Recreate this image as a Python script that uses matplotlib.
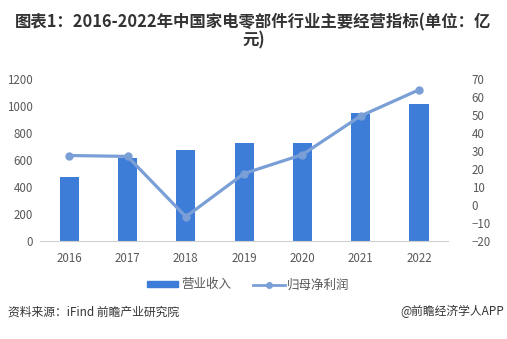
import numpy as np
import matplotlib
matplotlib.use('Agg')
import matplotlib.pyplot as plt

plt.rcParams['font.family'] = ['Noto Sans CJK SC', 'DejaVu Sans']

years = ['2016', '2017', '2018', '2019', '2020', '2021', '2022']
revenue = [475, 615, 675, 725, 725, 945, 1015]      # 营业收入
net_profit = [27.5, 27, -6.5, 17.5, 28, 49.5, 64]    # 归母净利润

bar_color = '#3d7dd8'
line_color = '#7a9fd6'
tick_color = '#595959'

fig = plt.figure(figsize=(5.07, 3.39), dpi=100)
ax = fig.add_axes([0.079, 0.289, 0.805, 0.478])
ax2 = ax.twinx()

x = np.arange(len(years))
bars = ax.bar(x, revenue, width=0.33, color=bar_color, zorder=2)
line, = ax2.plot(x, net_profit, color=line_color, lw=2.3, marker='o', ms=5, zorder=3)

ax.set_xlim(-0.5, len(years) - 0.5)
ax.set_ylim(0, 1200)
ax.set_yticks(range(0, 1201, 200))
ax2.set_ylim(-20, 70)
ax2.set_yticks(range(-20, 71, 10))
ax.set_xticks(x)
ax.set_xticklabels(years)

for a in (ax, ax2):
    for s in a.spines.values():
        s.set_visible(False)
    a.tick_params(length=0, labelsize=8.3, labelcolor=tick_color)
ax.spines['bottom'].set_visible(True)
ax.spines['bottom'].set_color('#d0d0d0')
ax.tick_params(axis='x', pad=8)
ax.tick_params(axis='y', pad=5)
ax2.tick_params(axis='y', pad=17)

fig.text(0.5, 0.96, '图表1：2016-2022年中国家电零部件行业主要经营指标(单位：亿\n元)',
         ha='center', va='top', fontsize=11.8, fontweight='bold', color='#333333',
         linespacing=1.0)

leg_handles = [plt.Rectangle((0, 0), 1, 1, color=bar_color),
               plt.Line2D([], [], color=line_color, lw=2, marker='o', ms=4)]
fig.legend(leg_handles, ['营业收入', '归母净利润'], loc='center', bbox_to_anchor=(0.49, 0.16),
           ncol=2, frameon=False, fontsize=9, handlelength=2.5, handleheight=0.35,
           columnspacing=1.8, handletextpad=0.2, labelcolor=tick_color)

fig.text(0.016, 0.08, '资料来源：iFind 前瞻产业研究院', ha='left', va='center', fontsize=8.5, color='#333333')
fig.text(0.995, 0.08, '@前瞻经济学人APP', ha='right', va='center', fontsize=8.5, color='#333333')

fig.savefig('out.png', dpi=100)
